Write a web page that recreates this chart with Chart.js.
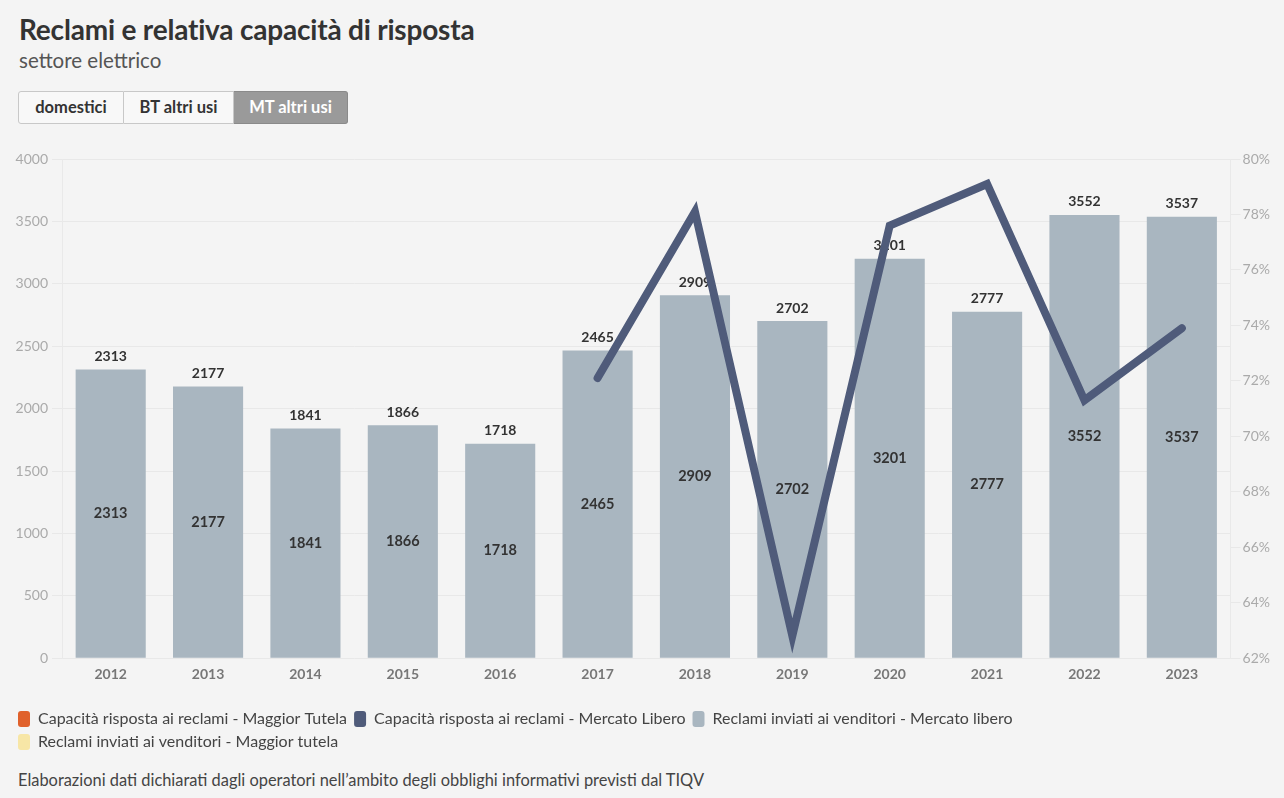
<!DOCTYPE html>
<html>
<head>
<meta charset="utf-8">
<script src="https://cdn.jsdelivr.net/npm/chart.js@4.4.1/dist/chart.umd.min.js"></script>
<style>
  html,body{margin:0;padding:0;background:#f4f4f4;}
  body{width:1284px;height:798px;position:relative;overflow:hidden;font-family:Lato,"Noto Sans",sans-serif;}
  #title{position:absolute;left:19px;top:12px;font-size:28px;font-weight:bold;color:#333;letter-spacing:-0.2px;line-height:34px;}
  #subtitle{position:absolute;left:19px;top:47px;font-size:20.5px;color:#555;line-height:26px;}
  #buttons{position:absolute;left:18px;top:91px;display:flex;height:33px;}
  .btn{box-sizing:border-box;height:33px;line-height:31px;font-size:16.5px;font-weight:bold;color:#333;background:#f8f8f8;border:1px solid #c8c8c8;text-align:center;}
  .btn.first{border-radius:3px 0 0 3px;}
  .btn.mid{border-left:none;}
  .btn.active{background:#9a9a9a;color:#fff;border-color:#8a8a8a;border-left:none;border-radius:0 3px 3px 0;}
  #wrap{position:absolute;left:0;top:140px;width:1284px;height:620px;}
  #footer{position:absolute;left:18px;top:769px;font-size:16.4px;color:#444;line-height:22px;}
</style>
</head>
<body>
<div id="title">Reclami e relativa capacità di risposta</div>
<div id="subtitle">settore elettrico</div>
<div id="buttons">
  <div class="btn first" style="width:106px">domestici</div>
  <div class="btn mid" style="width:110px">BT altri usi</div>
  <div class="btn active" style="width:114px">MT altri usi</div>
</div>
<div id="wrap"><canvas id="c"></canvas></div>
<div id="footer">Elaborazioni dati dichiarati dagli operatori nell’ambito degli obblighi informativi previsti dal TIQV</div>
<script>
const years = ['2012','2013','2014','2015','2016','2017','2018','2019','2020','2021','2022','2023'];
const reclamiMercatoLibero = [2313,2177,1841,1866,1718,2465,2909,2702,3201,2777,3552,3537];
const reclamiMaggiorTutela = [];
const capacitaMercatoLibero = [null,null,null,null,null,72.1,78.1,62.8,77.6,79.1,71.3,73.9];
const capacitaMaggiorTutela = [];
const leftTicks = [0,500,1000,1500,2000,2500,3000,3500,4000];
const rightTicks = [62,64,66,68,70,72,74,76,78,80];

const FONT = 'Lato, "Noto Sans", sans-serif';

const valueLabels = {
  id: 'valueLabels',
  afterDatasetDraw(chart, args) {
    if (args.index !== 2) return;
    const ctx = chart.ctx;
    ctx.save();
    ctx.fillStyle = '#333';
    ctx.textAlign = 'center';
    ctx.textBaseline = 'middle';
    args.meta.data.forEach((bar, i) => {
      const v = reclamiMercatoLibero[i];
      ctx.font = 'bold 14px ' + FONT;
      ctx.fillText(String(v), bar.x, bar.y - 13);
      ctx.font = 'bold 14.5px ' + FONT;
      ctx.fillText(String(v), bar.x, (bar.y + bar.base) / 2);
    });
    ctx.restore();
  }
};

new Chart(document.getElementById('c'), {
  data: {
    labels: years,
    datasets: [
      { type: 'line', label: 'Capacità risposta ai reclami - Maggior Tutela', data: capacitaMaggiorTutela,
        yAxisID: 'y1', borderColor: '#e0612b', backgroundColor: '#e0612b', borderWidth: 8, pointRadius: 0 },
      { type: 'line', label: 'Capacità risposta ai reclami - Mercato Libero', data: capacitaMercatoLibero,
        yAxisID: 'y1', borderColor: '#4f5b7a', backgroundColor: '#4f5b7a', borderWidth: 8, pointRadius: 0,
        pointHoverRadius: 0, tension: 0, borderCapStyle: 'round', borderJoinStyle: 'miter', spanGaps: false },
      { type: 'bar', label: 'Reclami inviati ai venditori - Mercato libero', data: reclamiMercatoLibero,
        yAxisID: 'y', stack: 'a', backgroundColor: '#a9b6c0', borderWidth: 0 },
      { type: 'bar', label: 'Reclami inviati ai venditori - Maggior tutela', data: reclamiMaggiorTutela,
        yAxisID: 'y', stack: 'a', backgroundColor: '#f7e6a6', borderWidth: 0 }
    ]
  },
  options: {
    responsive: true,
    maintainAspectRatio: false,
    animation: false,
    layout: { padding: { left: 11, right: 12, top: 19, bottom: 0 } },
    scales: {
      x: {
        grid: { display: false, drawTicks: false },
        border: { display: false },
        ticks: { color: '#777', font: { family: FONT, size: 14, weight: 'bold' }, padding: 8 },
        afterFit: (s) => { s.height += 13; }
      },
      y: {
        position: 'left', min: 0, max: 4000,
        afterBuildTicks: (s) => { s.ticks = leftTicks.map(v => ({ value: v })); },
        afterFit: (s) => { s.width = 51; },
        grid: { color: '#e8e8e8', tickLength: 10, tickColor: '#e8e8e8' },
        border: { display: true, color: '#e9e9e9' },
        ticks: { color: '#aaa', font: { family: FONT, size: 14 }, padding: 4, callback: v => String(v) }
      },
      y1: {
        position: 'right', min: 62, max: 80,
        afterBuildTicks: (s) => { s.ticks = rightTicks.map(v => ({ value: v })); },
        grid: { drawOnChartArea: false, color: '#e8e8e8', tickLength: 10 },
        border: { display: true, color: '#e9e9e9' },
        ticks: { color: '#aaa', font: { family: FONT, size: 14 }, padding: 2, callback: v => v + '%' }
      }
    },
    plugins: {
      tooltip: { enabled: false },
      legend: {
        position: 'bottom', align: 'start',
        labels: {
          color: '#444', font: { family: FONT, size: 16 }, boxWidth: 12, boxHeight: 16,
          padding: 7, useBorderRadius: true, borderRadius: 3,
          generateLabels: (chart) => {
            const items = Chart.defaults.plugins.legend.labels.generateLabels(chart);
            items.forEach(it => { it.lineWidth = 0; it.strokeStyle = it.fillStyle; });
            return items;
          }
        }
      }
    }
  },
  plugins: [valueLabels]
});
</script>
</body>
</html>
